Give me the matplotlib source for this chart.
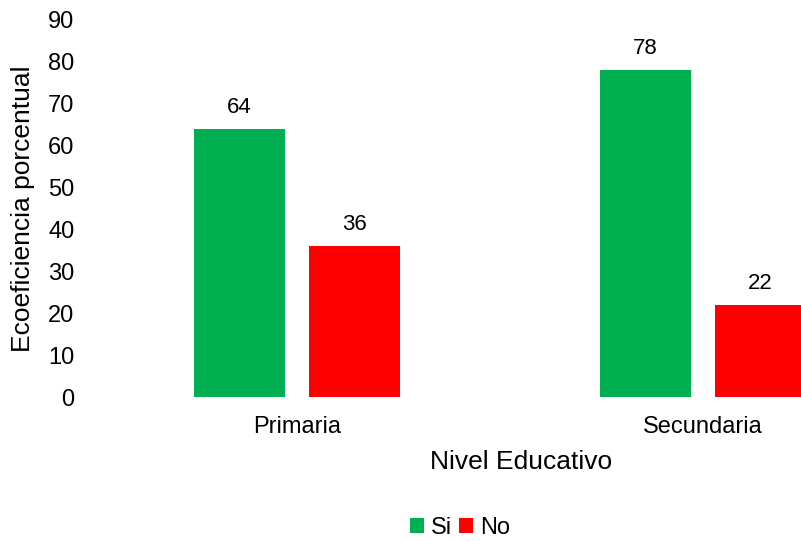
import numpy as np
import matplotlib.pyplot as plt

plt.rcParams['font.family'] = ['Liberation Sans', 'DejaVu Sans']

# Datos
categorias = ['Primaria', 'Secundaria']
si = [64, 78]
no = [36, 22]

x = np.arange(len(categorias))
w = 0.222
off = 0.1416

fig = plt.figure(figsize=(8.01, 5.41), dpi=100)
ax = fig.add_axes([94 / 801, 144 / 541, (801 - 94) / 801, (397 - 20) / 541])

b1 = ax.bar(x - off, si, w, color='#00b050', label='Si')
b2 = ax.bar(x + off, no, w, color='#ff0000', label='No')

for bars in (b1, b2):
    for b in bars:
        ax.text(b.get_x() + b.get_width() / 2, b.get_height() + 2.6, f'{b.get_height():.0f}',
                ha='center', va='bottom', fontsize=16)

ax.set_xlim(-0.5, (801 - 297) / 406)
ax.set_ylim(0, 90)
ax.set_yticks(range(0, 91, 10))
ax.set_xticks(x)
ax.set_xticklabels(categorias)
ax.tick_params(axis='both', length=0, labelsize=17)
ax.tick_params(axis='x', pad=14)
ax.tick_params(axis='y', pad=14)
for s in ax.spines.values():
    s.set_visible(False)

ax.set_xlabel('Nivel Educativo', fontsize=19)
ax.xaxis.set_label_coords((521 - 94) / 707, -0.14)
ax.set_ylabel('Ecoeficiencia porcentual', fontsize=19)
ax.yaxis.set_label_coords(-0.084, 0.5)

fig.legend(handles=[b1, b2], loc='center', bbox_to_anchor=(460 / 801, 1 - 528 / 541),
           ncol=2, frameon=False, fontsize=17, handlelength=0.6, handleheight=0.6,
           handletextpad=0.3, columnspacing=0.3, borderpad=0.2)

fig.savefig('out.png', dpi=100)
